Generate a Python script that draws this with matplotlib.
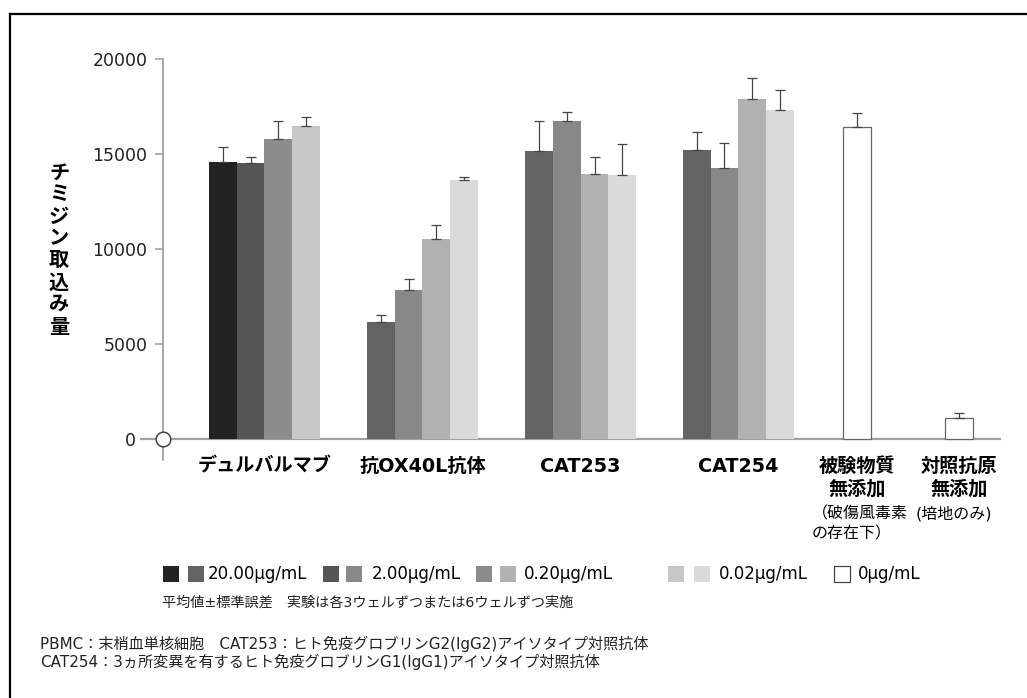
from __future__ import annotations

import matplotlib

matplotlib.use("Agg")
import matplotlib.pyplot as plt
import matplotlib.transforms as mtransforms
from matplotlib.lines import Line2D
from matplotlib.patches import Rectangle

plt.rcParams["font.family"] = ["DejaVu Sans", "Noto Sans CJK JP"]

# --- data ---
GROUPS = ["デュルバルマブ", "抗OX40L抗体", "CAT253", "CAT254"]
DOSES = ["20.00μg/mL", "2.00μg/mL", "0.20μg/mL", "0.02μg/mL"]

durvalumab = [14580, 14530, 15800, 16470]
durvalumab_err = [790, 320, 920, 460]
anti_ox40l = [6160, 7830, 10530, 13620]
anti_ox40l_err = [380, 580, 750, 170]
cat253 = [15160, 16740, 13960, 13910]
cat253_err = [1580, 490, 900, 1600]
cat254 = [15230, 14280, 17910, 17300]
cat254_err = [930, 1320, 1070, 1080]

NO_DRUG_LABEL = ["被験物質", "無添加"]
NO_DRUG_NOTE = ["（破傷風毒素", "の存在下）"]
no_drug = 16400
no_drug_err = 750

NO_ANTIGEN_LABEL = ["対照抗原", "無添加"]
NO_ANTIGEN_NOTE = ["(培地のみ)"]
no_antigen = 1120
no_antigen_err = 230

ZERO_LABEL = "0μg/mL"
YTICKS = [0, 5000, 10000, 15000, 20000]
YLABEL = "チミジン取込み量"
NOTE = "平均値±標準誤差　実験は各3ウェルずつまたは6ウェルずつ実施"
FOOTNOTES = [
    "PBMC：末梢血単核細胞　CAT253：ヒト免疫グロブリンG2(IgG2)アイソタイプ対照抗体",
    "CAT254：3ヵ所変異を有するヒト免疫グロブリンG1(IgG1)アイソタイプ対照抗体",
]

# --- styling / layout ---
DUR_COLORS = ["#222222", "#555555", "#8c8c8c", "#c8c8c8"]
OTHER_COLORS = ["#636363", "#888888", "#b1b1b1", "#dadada"]
GROUP_POS = [3.65, 9.33, 15.02, 20.69, 24.96, 28.63]
BAR_W = 1.0
W, H = 1027, 698


def fx(px):
    return px / W


def fy(py):
    return 1 - py / H


def main() -> None:
    fig = plt.figure(figsize=(W / 100, H / 100), dpi=100)
    ax = fig.add_axes([fx(163), fy(460), fx(1000) - fx(163), fy(59) - fy(460)])

    series = [
        (durvalumab, durvalumab_err, DUR_COLORS),
        (anti_ox40l, anti_ox40l_err, OTHER_COLORS),
        (cat253, cat253_err, OTHER_COLORS),
        (cat254, cat254_err, OTHER_COLORS),
    ]
    for gpos, (vals, errs, colors) in zip(GROUP_POS, series):
        xs = [gpos + (i - 1.5) * BAR_W for i in range(len(vals))]
        ax.bar(xs, vals, width=BAR_W, color=colors, edgecolor="none", zorder=2)
        ax.errorbar(xs, vals, yerr=[[0] * len(errs), errs], fmt="none",
                    ecolor="#444444", elinewidth=0.9, capsize=3.5,
                    capthick=0.9, zorder=3)

    for gpos, val, err in [(GROUP_POS[4], no_drug, no_drug_err),
                           (GROUP_POS[5], no_antigen, no_antigen_err)]:
        ax.bar([gpos], [val], width=BAR_W, color="white",
               edgecolor="#666666", linewidth=0.9, zorder=2)
        ax.errorbar([gpos], [val], yerr=[[0], [err]], fmt="none",
                    ecolor="#444444", elinewidth=0.9, capsize=3.5,
                    capthick=0.9, zorder=3)

    ax.set_xlim(0, 30.1)
    ax.set_ylim(-1105, 20000)
    for side in ("top", "right", "bottom"):
        ax.spines[side].set_visible(False)
    ax.spines["left"].set_color("#9a9a9a")
    ax.spines["left"].set_linewidth(1.2)
    ax.set_xticks([])
    ax.set_yticks(YTICKS)
    ax.set_yticklabels([str(t) for t in YTICKS])
    ax.tick_params(axis="y", length=5.8, width=1.1, color="#9a9a9a",
                   labelsize=12.5, labelcolor="#222222", pad=5.5)
    ax.yaxis.get_major_ticks()[0].set_pad(14)

    # x axis line extends a little left of the y axis
    ax.plot([-0.8, 30.1], [0, 0], color="#a0a0a0", lw=1.6, clip_on=False,
            zorder=1)
    ax.plot([0], [0], "o", ms=10.5, mfc="white", mec="#444444", mew=1.1,
            clip_on=False, zorder=6)

    # category labels
    trans = mtransforms.blended_transform_factory(ax.transData, fig.transFigure)
    for gpos, label in zip(GROUP_POS[:4], GROUPS):
        ax.text(gpos, fy(466), label, transform=trans, ha="center",
                va="center", fontsize=13.8, fontweight="bold")
    for gpos, lines in [(GROUP_POS[4], NO_DRUG_LABEL),
                        (GROUP_POS[5], NO_ANTIGEN_LABEL)]:
        for k, line in enumerate(lines):
            ax.text(gpos, fy(466 + 23 * k), line, transform=trans,
                    ha="center", va="center", fontsize=13.8,
                    fontweight="bold")
    # bracketed notes under the last two groups
    for k, line in enumerate(NO_DRUG_NOTE):
        ax.text(GROUP_POS[4] - 1.62, fy(514 + 20 * k), line, transform=trans,
                ha="left", va="center", fontsize=11.5)
    for k, line in enumerate(NO_ANTIGEN_NOTE):
        ax.text(GROUP_POS[5] - 0.2, fy(514 + 20 * k), line, transform=trans,
                ha="center", va="center", fontsize=11.5)

    # y label, one character per line
    for k, ch in enumerate(YLABEL):
        fig.text(fx(59), fy(173 + 22 * k), ch, ha="center", va="center",
                 fontsize=14.5, fontweight="bold")

    # legend
    sq = 16
    legend_layout = [((163, 188), 208), ((323, 346), 372),
                     ((476, 500), 524), ((668, 694), 719)]
    for (sq_x, text_x), label, c1, c2 in zip(legend_layout, DOSES,
                                             DUR_COLORS, OTHER_COLORS):
        for x0, c in zip(sq_x, (c1, c2)):
            fig.add_artist(Rectangle((fx(x0), fy(582)), sq / W, sq / H,
                                     transform=fig.transFigure,
                                     facecolor=c, edgecolor="none"))
        fig.text(fx(text_x), fy(574), label, ha="left", va="center",
                 fontsize=12)
    fig.add_artist(Rectangle((fx(834), fy(582)), sq / W, sq / H,
                             transform=fig.transFigure, facecolor="white",
                             edgecolor="#444444", linewidth=0.9))
    fig.text(fx(858), fy(574), ZERO_LABEL, ha="left", va="center",
             fontsize=12)

    fig.text(fx(162), fy(603), NOTE, ha="left", va="center", fontsize=10.2,
             color="#222222")
    for k, line in enumerate(FOOTNOTES):
        fig.text(fx(40), fy(644 + 18 * k), line, ha="left", va="center",
                 fontsize=10.9, color="#222222")

    # frame (top and left edges)
    fig.add_artist(Line2D([fx(10), 1.0], [fy(14), fy(14)],
                          transform=fig.transFigure, color="black", lw=1.6))
    fig.add_artist(Line2D([fx(10), fx(10)], [0, fy(14)],
                          transform=fig.transFigure, color="black", lw=1.6))

    fig.savefig("out.png", dpi=100)
    plt.close(fig)


if __name__ == "__main__":
    main()
